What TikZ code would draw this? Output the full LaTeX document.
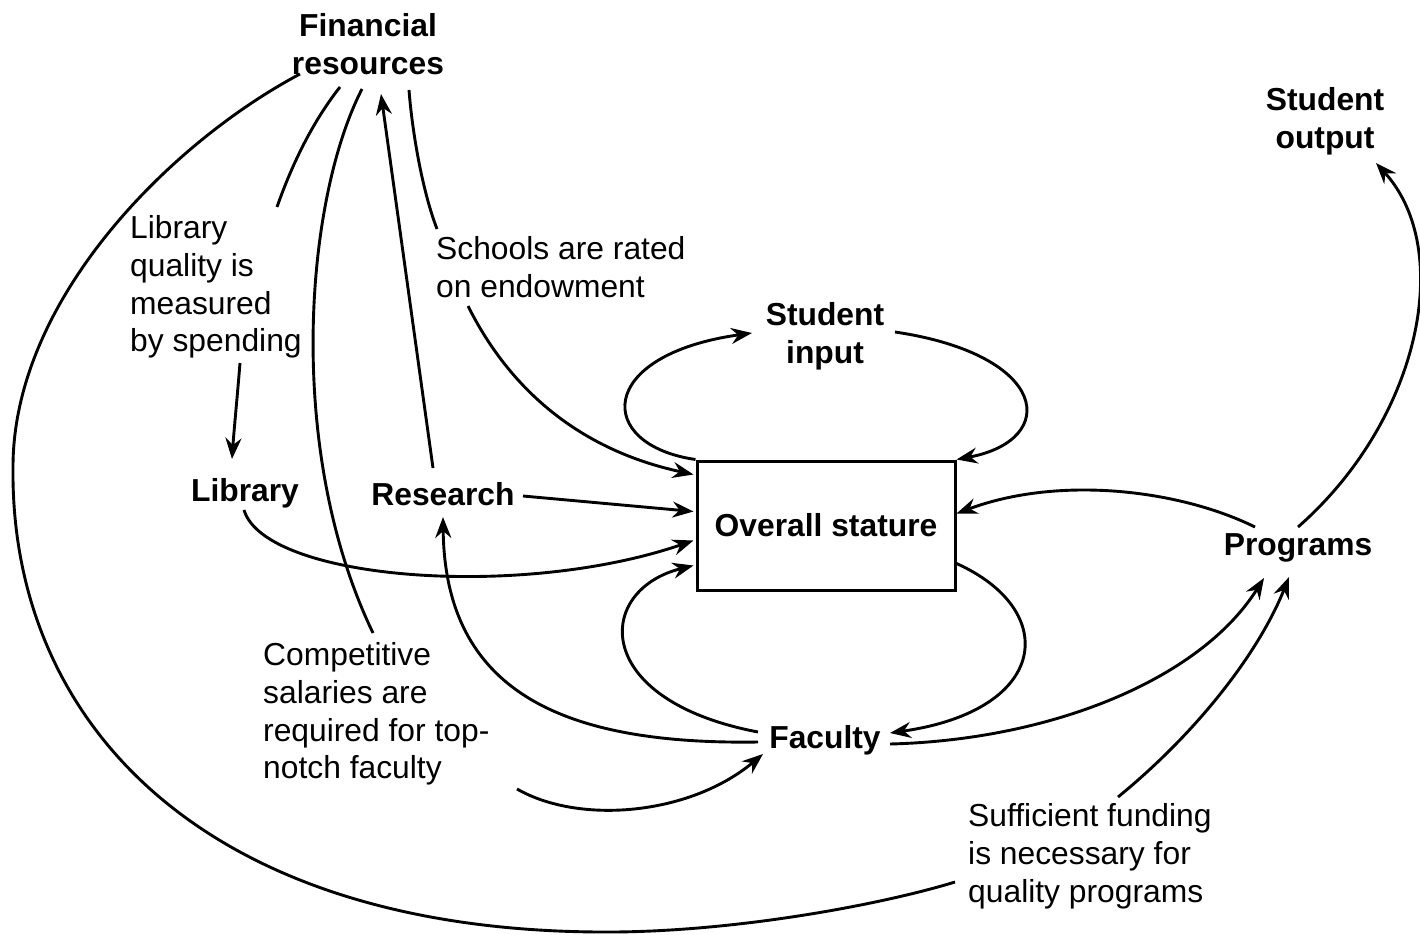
\documentclass[tikz,border=0pt]{standalone}
\usepackage{fontspec}
\setmainfont{Liberation Sans}
\usetikzlibrary{arrows.meta,calc}
\tikzset{
  lbl/.style={font=\fontsize{31.8}{38}\selectfont\bfseries, align=center, inner sep=0pt},
  note/.style={font=\fontsize{31.8}{37.8}\selectfont, align=left, inner sep=0pt, anchor=west},
  conn/.style={line width=2.9pt},
  arr/.style={line width=2.9pt, -{Stealth[length=21pt,width=16pt,inset=7pt]}},
  boxst/.style={draw, line width=3pt, minimum width=258pt, minimum height=129pt, inner sep=0pt,
    font=\fontsize{31.8}{38}\selectfont\bfseries}
}
\begin{document}
\begin{tikzpicture}[x=1pt,y=-1pt]
\useasboundingbox (0,0) rectangle (1420,934);
% nodes
\node[lbl] (fin) at (368,44) {Financial\\resources};
\node[lbl] (sout) at (1325,121) {Student\\output};
\node[lbl] (sin) at (825,336) {Student\\input};
\node[lbl] (lib) at (245,493) {Library};
\node[lbl] (res) at (443,494) {Research};
\node[boxst] (box) at (826,525.5) {Overall stature};
\node[lbl] (prog) at (1298,548) {Programs};
\node[lbl] (fac) at (825,740) {Faculty};
\node[note] (lab1) at (130,287) {Library\\quality is\\measured\\by spending};
\node[note] (lab2) at (436,267) {Schools are rated\\on endowment};
\node[note] (lab3) at (263,714) {Competitive\\salaries are\\required for top-\\notch faculty};
\node[note] (lab4) at (968,856) {Sufficient funding\\is necessary for\\quality programs};
% Financial resources -> Library (via label)
\draw[conn] ($(fin)+(-28,43)$) .. controls (310,125) and (290,170) .. ($(lab1.west)+(147,-80)$);
\draw[arr] ($(lab1.west)+(110,76)$) .. controls (237,400) and (234,430) .. ($(lib)+(-13,-34)$);
% Financial resources -> Faculty (via label)
\draw[conn] ($(fin)+(-6,45)$) .. controls (305,200) and (285,450) .. ($(lab3.west)+(110,-81)$);
\draw[arr] ($(lab3.west)+(254,75)$) .. controls (580,825) and (690,815) .. ($(fac)+(-62,14)$);
% Research -> Financial resources
\draw[arr] ($(res)+(-10,-26)$) -- ($(fin)+(13,50)$);
% Financial resources -> Overall stature (via label)
\draw[conn] ($(fin)+(41,46)$) .. controls (412,130) and (422,190) .. ($(lab2.west)+(1,-38)$);
\draw[arr] ($(lab2.west)+(32,39)$) .. controls (510,390) and (580,450) .. ($(box.north west)+(-2,15)$);
% Financial resources -> Programs (big loop, via label)
\draw[conn] ($(fin)+(-68,30)$) .. controls (170,143) and (13,300) .. (13,467)
  .. controls (10,720) and (200,930) .. (600,932)
  .. controls (730,933) and (880,905) .. ($(lab4.west)+(-13,26)$);
\draw[arr] ($(lab4.west)+(150,-59)$) .. controls (1200,730) and (1260,650) .. ($(prog)+(-9,29)$);
% Student input loop
\draw[arr] (box.north west) .. controls (595,445) and (595,355) .. ($(sin)+(-73,-3)$);
\draw[arr] ($(sin)+(70,-4)$) .. controls (1050,355) and (1060,440) .. (box.north east);
% Faculty loop
\draw[arr] ($(box.east)+(0,38)$) .. controls (1060,610) and (1050,710) .. ($(fac)+(65,-7)$);
\draw[arr] ($(fac)+(-67,-8)$) .. controls (590,700) and (595,590) .. ($(box.south west)+(-2,-26)$);
% Research -> Overall stature
\draw[arr] ($(res)+(80,2)$) -- ($(box.west)+(-2,-14)$);
% Library -> Overall stature
\draw[arr] ($(lib)+(-1,17)$) .. controls (265,580) and (520,600) .. ($(box.west)+(-2,15)$);
% Faculty -> Research
\draw[arr] ($(fac)+(-67,2)$) .. controls (560,745) and (445,690) .. ($(res)+(0,23)$);
% Faculty -> Programs
\draw[arr] ($(fac)+(65,4)$) .. controls (1050,740) and (1200,680) .. ($(prog)+(-34,30)$);
% Programs -> Overall stature
\draw[arr] ($(prog)+(-43,-21)$) .. controls (1180,490) and (1060,475) .. ($(box.east)+(0,-12)$);
% Programs -> Student output
\draw[arr] ($(prog)+(0,-21)$) .. controls (1420,420) and (1455,250) .. ($(sout)+(51,42)$);
\end{tikzpicture}
\end{document}
